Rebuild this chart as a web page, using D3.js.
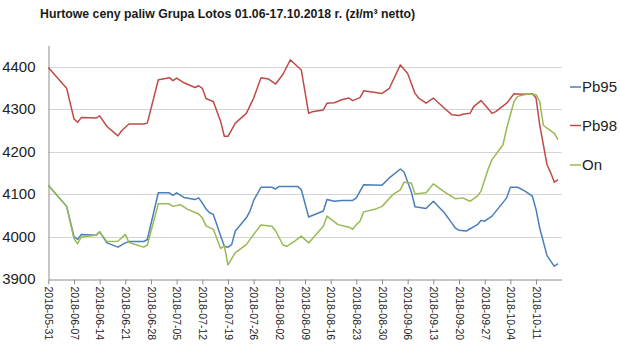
<!DOCTYPE html>
<html><head><meta charset="utf-8">
<script src="https://cdn.jsdelivr.net/npm/d3@7"></script>
<style>
html,body{margin:0;padding:0;background:#fff;}
svg{display:block;font-family:"Liberation Sans",Arial,sans-serif;}
</style></head>
<body>
<svg id="c" width="620" height="355"></svg>
<script>
// x values: days since 2018-05-31
const startDate = "2018-05-31";
const seriesNames = ["Pb95", "Pb98", "On"];
const seriesColors = ["#4a7ebb", "#be4b48", "#98b954"];
const yTicks = [3900, 4000, 4100, 4200, 4300, 4400];
const xTickLabels = ["2018-05-31","2018-06-07","2018-06-14","2018-06-21","2018-06-28","2018-07-05","2018-07-12","2018-07-19","2018-07-26","2018-08-02","2018-08-09","2018-08-16","2018-08-23","2018-08-30","2018-09-06","2018-09-13","2018-09-20","2018-09-27","2018-10-04","2018-10-11"];

const pb95 = [[0,4121],[5,4071],[7,4000],[8,3993],[9,4005],[13,4003],[14,4011],[16,3985],[19,3975],[21,3985],[22,3988],[26,3988],[27,3993],[30,4103],[33,4103],[34,4097],[35,4103],[37,4092],[40,4087],[41,4091],[42,4079],[43,4065],[44,4056],[45,4052],[47,4001],[48,3977],[49,3975],[50,3981],[51,4013],[54,4044],[55,4060],[56,4085],[58,4116],[61,4116],[62,4112],[63,4118],[66,4118],[68,4118],[69,4110],[71,4046],[73,4053],[75,4060],[76,4087],[78,4083],[80,4085],[83,4085],[84,4091],[86,4122],[91,4121],[93,4138],[96,4159],[97,4152],[99,4105],[100,4070],[103,4066],[105,4083],[108,4056],[110,4032],[111,4020],[112,4015],[114,4013],[117,4028],[118,4038],[119,4036],[121,4048],[125,4091],[126,4116],[128,4116],[130,4107],[132,4095],[133,4064],[134,4020],[136,3955],[137,3942],[138,3930],[139,3936]];
const pb98 = [[0,4398],[5,4349],[7,4277],[8,4269],[9,4280],[13,4279],[14,4284],[16,4259],[19,4237],[20,4249],[22,4265],[26,4265],[27,4267],[30,4369],[32,4372],[33,4374],[34,4367],[35,4373],[37,4362],[40,4351],[41,4355],[42,4349],[43,4325],[45,4318],[47,4271],[48,4236],[49,4236],[51,4267],[54,4290],[56,4326],[58,4374],[60,4371],[62,4359],[64,4382],[66,4416],[67,4408],[69,4392],[71,4290],[72,4294],[75,4298],[76,4314],[78,4315],[80,4322],[82,4326],[83,4320],[85,4327],[86,4343],[91,4337],[93,4349],[96,4404],[98,4384],[100,4337],[101,4326],[103,4314],[105,4326],[108,4302],[110,4287],[112,4285],[113,4288],[115,4290],[116,4306],[118,4320],[121,4290],[122,4294],[125,4314],[127,4336],[129,4335],[132,4336],[133,4326],[134,4263],[136,4169],[137,4150],[138,4128],[139,4134]];
const on = [[0,4121],[5,4071],[7,3995],[8,3983],[9,3999],[13,4003],[14,4011],[16,3988],[19,3989],[21,4005],[22,3986],[26,3975],[27,3980],[30,4077],[33,4077],[34,4071],[36,4075],[38,4064],[41,4053],[42,4044],[43,4025],[45,4017],[47,3972],[48,3978],[49,3933],[51,3962],[54,3981],[56,4005],[58,4027],[61,4024],[62,4013],[64,3980],[65,3977],[67,3988],[69,4001],[71,3985],[73,4005],[75,4024],[76,4048],[79,4028],[82,4022],[83,4017],[84,4028],[85,4036],[86,4058],[89,4064],[91,4071],[94,4099],[96,4110],[97,4128],[99,4126],[100,4100],[103,4103],[105,4124],[108,4105],[111,4089],[113,4091],[115,4083],[117,4095],[118,4107],[120,4160],[121,4181],[124,4216],[125,4255],[127,4318],[128,4330],[131,4336],[133,4334],[134,4318],[135,4262],[136,4255],[138,4243],[139,4228]];

const parse = d3.timeParse("%Y-%m-%d");
const t0 = parse(startDate);
const svg = d3.select("#c");

const x = d3.scaleTime().domain([t0, d3.timeDay.offset(t0, 140)]).range([48.3, 561.7]);
const y = d3.scaleLinear().domain([3900, 4450]).range([279, 45.4]);

// title
svg.append("text").attr("x", 40).attr("y", 18)
  .attr("font-size", 12.3).attr("font-weight", "bold").attr("fill", "#1a1a1a")
  .text("Hurtowe ceny paliw Grupa Lotos 01.06-17.10.2018 r. (zł/m³ netto)");

// gridlines
svg.append("g").selectAll("line").data(yTicks.filter(v => v > 3900)).join("line")
  .attr("x1", x.range()[0]).attr("x2", x.range()[1])
  .attr("y1", d => Math.round(y(d)) + 0.5).attr("y2", d => Math.round(y(d)) + 0.5)
  .attr("stroke", "#d4d4d4").attr("stroke-width", 1);

// y axis
const ya = svg.append("g").attr("transform", "translate(48.5,0)")
  .call(d3.axisLeft(y).tickValues(yTicks).tickSize(0).tickPadding(13).tickFormat(d3.format("d")));
ya.select(".domain").attr("stroke", "#8c8c8c");
ya.selectAll("text").attr("font-size", 15).attr("fill", "#222").attr("font-family", "Liberation Sans, Arial, sans-serif");

// x axis
const xa = svg.append("g").attr("transform", "translate(0,279.5)")
  .call(d3.axisBottom(x).tickValues(xTickLabels.map(parse)).tickSize(5).tickSizeOuter(0).tickFormat(d3.timeFormat("%Y-%m-%d")));
xa.select(".domain").attr("stroke", "#8c8c8c");
xa.selectAll(".tick line").attr("stroke", "#8c8c8c");
xa.selectAll("text").attr("font-size", 10.5).attr("fill", "#222")
  .attr("font-family", "Liberation Sans, Arial, sans-serif")
  .attr("text-anchor", "start").attr("dy", "0.35em")
  .attr("transform", "translate(0,7) rotate(90)").attr("x", 0).attr("y", 0);

// lines
const line = d3.line().x(d => x(d3.timeDay.offset(t0, d[0]))).y(d => y(d[1]));
const data = [pb95, pb98, on];
svg.append("g").selectAll("path").data(data).join("path")
  .attr("d", line).attr("fill", "none")
  .attr("stroke", (d, i) => seriesColors[i]).attr("stroke-width", 1.5)
  .attr("stroke-linejoin", "round");

// legend
const lg = svg.append("g").selectAll("g").data(seriesNames).join("g")
  .attr("transform", (d, i) => `translate(570,${[87, 125.5, 165][i]})`);
lg.append("line").attr("x1", 0).attr("x2", 11).attr("y1", 0).attr("y2", 0)
  .attr("stroke", (d, i) => seriesColors[i]).attr("stroke-width", 1.5);
lg.append("text").attr("x", 12).attr("dy", "0.36em").attr("font-size", 15).attr("fill", "#222").text(d => d);
</script>
</body></html>
